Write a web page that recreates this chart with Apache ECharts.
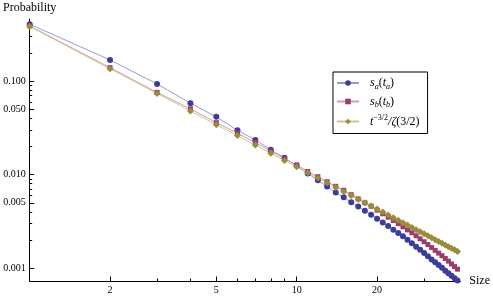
<!DOCTYPE html>
<html><head><meta charset="utf-8">
<script src="https://cdn.jsdelivr.net/npm/echarts@6/dist/echarts.min.js"></script>
<style>html,body{margin:0;padding:0;background:#fff}#c{width:493px;height:296px}</style>
</head><body><div id="c"></div>
<script>
// ---- data ----
const sizes = [1,2,3,4,5,6,7,8,9,10,11,12,13,14,15,16,17,18,19,20,21,22,23,24,25,26,27,28,29,30,31,32,33,34,35,36,37,38,39,40];
const sA = [0.405,0.168,0.093,0.058,0.0414,0.0298,0.0235,0.0184,0.0151,0.0124,0.0103,0.0087,0.00745,0.00643,0.00572,0.00507,0.00456,0.0041,0.00372,0.00337,
  0.00308,0.00282,0.00258,0.00238,0.00219,0.00201,0.00185,0.0017,0.00157,0.00145,0.00134,0.00124,0.00116,0.00108,0.00101,0.000942,0.000883,0.00083,0.000782,0.000738];
const sB = [0.388,0.139,0.0757,0.0505,0.0359,0.0277,0.0221,0.0178,0.0148,0.0127,0.0108,0.0095,0.0084,0.0075,0.0068,0.0061,0.0055,0.005,0.0046,0.00417,
  0.00382,0.00351,0.00324,0.00299,0.00277,0.00257,0.00239,0.00222,0.00206,0.00192,0.00179,0.00166,0.00155,0.00145,0.00136,0.00127,0.00119,0.00111,0.00104,0.000977];
const sTheory = [0.3828,0.1353,0.0737,0.0479,0.0342,0.0261,0.0207,0.0169,0.01418,0.01211,0.01049,0.00921,0.00817,0.00731,0.00659,0.00598,0.00546,0.00501,0.00462,0.00428,
  0.00398,0.00371,0.00347,0.00326,0.00306,0.00289,0.00273,0.00258,0.00245,0.00233,0.00222,0.00211,0.00202,0.00193,0.00185,0.00177,0.0017,0.00163,0.00157,0.00151];
const xMajorTicks = [2,5,10,20];
const xMinorTicks = [3,4,6,7,8,9,30,40];
const yMajorTicks = [0.001,0.005,0.01,0.05,0.1];
const yMinorTicks = [0.002,0.003,0.004,0.006,0.007,0.008,0.009,0.02,0.03,0.04,0.06,0.07,0.08,0.09,0.2,0.3,0.4];
const xRange = [1, 41];
const yRange = [0.00073, 0.46];

// ---- chart ----
const L = Math.log10;
const font = '"Liberation Serif","DejaVu Serif",serif';
const pts = arr => sizes.map((t, i) => [L(t), L(arr[i])]);
const baseX = {
  type: 'value', position: 'bottom', min: L(xRange[0]), max: L(xRange[1]), splitLine: {show: false}
};
const baseY = {
  type: 'value', position: 'left', min: L(yRange[0]), max: L(yRange[1]), splitLine: {show: false}
};
const chart = echarts.init(document.getElementById('c'), null, {renderer: 'canvas'});
const rich = {
  it: {fontFamily: font, fontStyle: 'italic', fontSize: 12, lineHeight: 15, color: '#000'},
  n: {fontFamily: font, fontSize: 12, lineHeight: 15, color: '#000'},
  sub: {fontFamily: font, fontStyle: 'italic', fontSize: 8, lineHeight: 9, verticalAlign: 'bottom', color: '#000'},
  sup: {fontFamily: font, fontSize: 8, lineHeight: 9, verticalAlign: 'top', color: '#000'}
};
const legendText = {
  sa: '{it|s}{sub|a}{n|(}{it|t}{sub|a}{n|)}',
  sb: '{it|s}{sub|b}{n|(}{it|t}{sub|b}{n|)}',
  th: '{it|t}{sup|−3/2}{it|/ζ}{n|(3/2)}'
};
const mk = (name, arr, col, lineCol, symbol, size) => ({
  name, type: 'line', data: pts(arr), symbol, symbolSize: size,
  itemStyle: {color: col}, lineStyle: {color: lineCol, width: 1},
  emphasis: {disabled: true}, animation: false, z: 2
});
chart.setOption({
  animation: false,
  grid: {left: 29, right: 31.3, top: 19, bottom: 15, containLabel: false},
  xAxis: [
    Object.assign({}, baseX, {
      name: 'Size', nameLocation: 'end', nameGap: 9,
      nameTextStyle: {fontFamily: font, fontSize: 12, color: '#000', align: 'left', verticalAlign: 'middle'},
      axisLine: {onZero: false, lineStyle: {color: '#000', width: 1}},
      axisTick: {inside: true, length: 4.5, customValues: xMajorTicks.map(L), lineStyle: {color: '#000'}},
      axisLabel: {customValues: xMajorTicks.map(L), margin: 4, fontFamily: font, fontSize: 10, color: '#000',
        formatter: v => String(Math.round(Math.pow(10, v)))}
    }),
    Object.assign({}, baseX, {
      axisLine: {show: false, onZero: false},
      axisTick: {show: true, inside: true, length: 2.5, customValues: xMinorTicks.map(L), lineStyle: {color: '#000'}},
      axisLabel: {show: false}
    })
  ],
  yAxis: [
    Object.assign({}, baseY, {
      name: 'Probability', nameLocation: 'end', nameGap: 11,
      nameTextStyle: {fontFamily: font, fontSize: 12, color: '#000', align: 'center', verticalAlign: 'middle'},
      axisLine: {onZero: false, lineStyle: {color: '#000', width: 1}},
      axisTick: {inside: true, length: 4.5, customValues: yMajorTicks.map(L), lineStyle: {color: '#000'}},
      axisLabel: {customValues: yMajorTicks.map(L), margin: 4, fontFamily: font, fontSize: 10, color: '#000',
        formatter: v => Math.pow(10, v).toFixed(3)}
    }),
    Object.assign({}, baseY, {
      axisLine: {show: false, onZero: false},
      axisTick: {show: true, inside: true, length: 2.5, customValues: yMinorTicks.map(L), lineStyle: {color: '#000'}},
      axisLabel: {show: false}
    })
  ],
  legend: {
    orient: 'vertical', left: 333, top: 72,
    data: ['sa', 'sb', 'th'],
    backgroundColor: '#fff', borderColor: '#000', borderWidth: 1,
    padding: [5, 8, 6, 3], itemGap: 5, itemWidth: 22, itemHeight: 7,
    formatter: n => legendText[n],
    textStyle: {rich, padding: [0, 0, 0, 6]},
    selectedMode: false
  },
  series: [
    mk('sa', sA, '#3d3d99', '#9a9ad2', 'circle', 6),
    mk('sb', sB, '#993d71', '#d29ab8', 'rect', 5),
    mk('th', sTheory, '#998c3d', '#cfc48c', 'diamond', 7)
  ]
});
</script></body></html>
